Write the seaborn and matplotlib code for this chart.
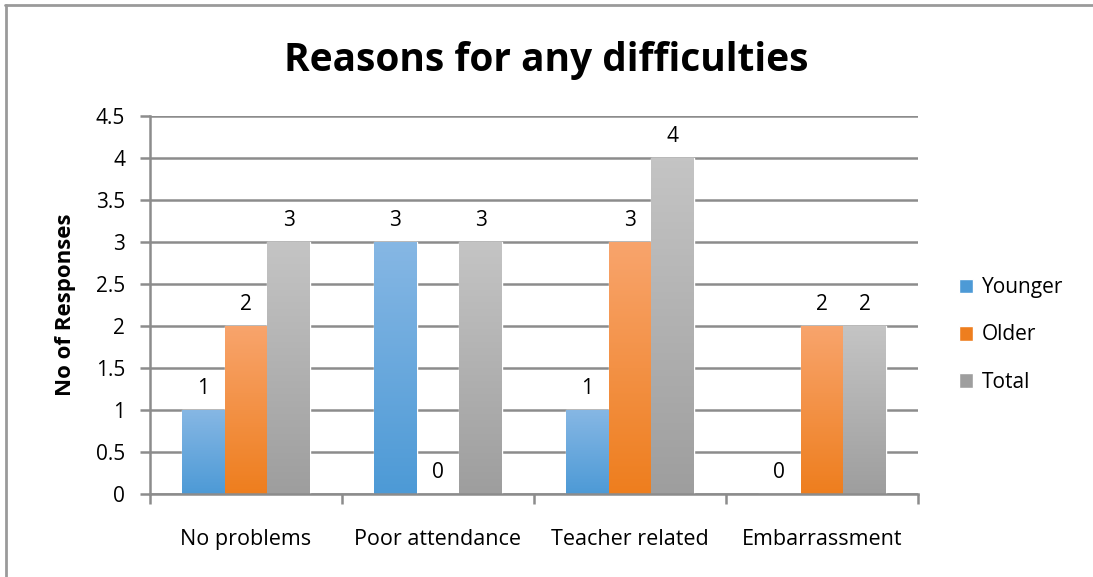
import numpy as np
import pandas as pd
import matplotlib
matplotlib.use("Agg")
import matplotlib.pyplot as plt
import seaborn as sns
from matplotlib.colors import LinearSegmentedColormap
from matplotlib.patches import Rectangle
from matplotlib.lines import Line2D

categories = ["No problems", "Poor attendance", "Teacher related", "Embarrassment"]
series = ["Younger", "Older", "Total"]
younger = [1, 3, 1, 0]
older = [2, 0, 3, 2]
total = [3, 3, 4, 2]
y_ticks = [0, 0.5, 1, 1.5, 2, 2.5, 3, 3.5, 4, 4.5]

# gradient colours (top, bottom) per series
grad = {
    "Younger": ("#86b7e4", "#4d9ad6"),
    "Older": ("#f8a46c", "#ee7e1e"),
    "Total": ("#c4c4c4", "#9e9e9e"),
}

df = pd.DataFrame({
    "Category": categories * 3,
    "Series": [s for s in series for _ in categories],
    "Value": younger + older + total,
})

sns.set_style("white")
plt.rcParams["font.family"] = ["Open Sans", "DejaVu Sans"]
plt.rcParams["text.color"] = "black"
plt.rcParams["axes.labelcolor"] = "black"
plt.rcParams["xtick.color"] = "black"
plt.rcParams["ytick.color"] = "black"

fig = plt.figure(figsize=(10.93, 5.77), dpi=100)
ax = fig.add_axes([150 / 1093, 1 - 494 / 577, 768 / 1093, 378 / 577])

palette = {s: grad[s][1] for s in series}
sns.barplot(data=df, x="Category", y="Value", hue="Series", palette=palette,
            width=0.667, ax=ax, legend=False, errorbar=None, saturation=1)

# vertical gradient fill for each bar
for container, s in zip(ax.containers, series):
    cmap = LinearSegmentedColormap.from_list(s, [grad[s][1], grad[s][0]])
    for bar in container:
        x0, y0 = bar.get_x(), bar.get_y()
        w, h = bar.get_width(), bar.get_height()
        if h <= 0:
            continue
        img = ax.imshow(np.linspace(0, 1, 100).reshape(-1, 1), cmap=cmap,
                        origin="lower", aspect="auto",
                        extent=[x0, x0 + w, y0, y0 + h], zorder=2)
        img.set_clip_path(bar)
    ax.bar_label(container, fmt="%d", padding=8, fontsize=15, color="black")

ax.set_xlim(-0.5, 3.5)
ax.set_ylim(0, 4.5)
ax.set_yticks(y_ticks)
ax.set_yticklabels([f"{t:g}" for t in y_ticks], fontsize=15)
ax.set_xticks(range(len(categories)))
ax.set_xticklabels(categories, fontsize=15.5)
ax.set_xlabel("")
ax.set_ylabel("No of Responses", fontsize=16, fontweight="bold", labelpad=14)

ax.grid(axis="y", color="#8c8c8c", linewidth=1.8, zorder=0)
ax.set_axisbelow(True)
for side in ["top", "right"]:
    ax.spines[side].set_visible(False)
for side in ["left", "bottom"]:
    ax.spines[side].set_color("#8c8c8c")
    ax.spines[side].set_linewidth(1.8)

ax.tick_params(axis="y", direction="out", length=7, width=1.8, color="#8c8c8c",
               left=True, pad=11)
ax.tick_params(axis="x", bottom=False, length=0, pad=25)
# minor ticks on x between the categories
ax.set_xticks([-0.5, 0.5, 1.5, 2.5, 3.5], minor=True)
ax.tick_params(axis="x", which="minor", direction="out", length=7, width=1.8,
               color="#8c8c8c", bottom=True)

fig.suptitle("Reasons for any difficulties", fontsize=28, fontweight="bold",
             y=1 - 60 / 577, va="center")

handles = [Rectangle((0, 0), 1, 1, facecolor=grad[s][1]) for s in series]
fig.legend(handles, series, loc="center left", bbox_to_anchor=(940 / 1093, 1 - 335 / 577),
           frameon=False, fontsize=15, handlelength=0.7, handleheight=0.7,
           labelspacing=1.25, handletextpad=0.4)

# chart border (top and left edges only, as in the screenshot)
fig.add_artist(Line2D([5 / 1093, 1], [1 - 5 / 577, 1 - 5 / 577], transform=fig.transFigure,
                      color="#9a9a9a", linewidth=2))
fig.add_artist(Line2D([5.5 / 1093, 5.5 / 1093], [0, 1 - 5 / 577], transform=fig.transFigure,
                      color="#9a9a9a", linewidth=2))

fig.savefig("out.png", dpi=100)
